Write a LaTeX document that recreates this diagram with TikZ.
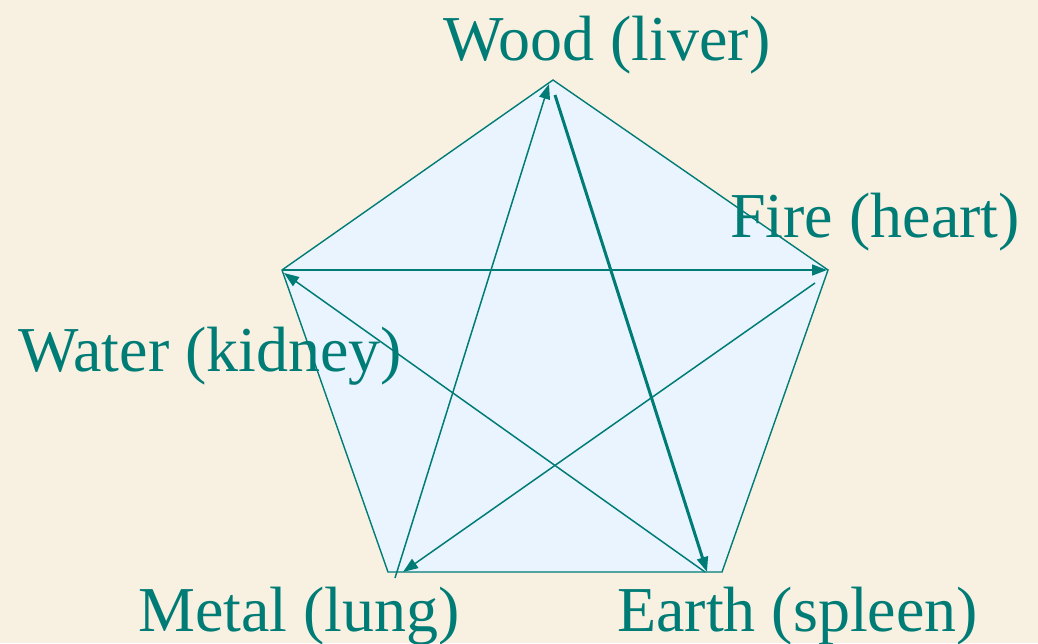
\documentclass[tikz,border=0pt]{standalone}
\usepackage{fontspec}
\setmainfont{Liberation Serif}
\usetikzlibrary{arrows.meta}
\definecolor{teal1}{RGB}{0,124,118}
\definecolor{cream}{RGB}{248,240,224}
\definecolor{paleblue}{RGB}{234,244,255}
\tikzset{
  lbl/.style={inner sep=0pt, anchor=base west, text=teal1, font=\fontsize{64}{72}\selectfont},
  edge/.style={draw=teal1, line width=1.4pt},
  arr/.style={draw=teal1, line width=1.5pt, -{Triangle[length=15pt,width=11pt]}},
  thickarr/.style={draw=teal1, line width=3pt, -{Triangle[length=15pt,width=11pt]}}
}
\begin{document}
\begin{tikzpicture}[x=1pt,y=-1pt]
\fill[cream] (0,0) rectangle (1038,643);
\useasboundingbox (0,0) rectangle (1038,643);
% vertices
\coordinate (W) at (553,80);
\coordinate (F) at (828,270);
\coordinate (E) at (722,572);
\coordinate (M) at (388,572);
\coordinate (K) at (282,270);
% pentagon
\filldraw[fill=paleblue, edge] (W) -- (F) -- (E) -- (M) -- (K) -- cycle;
% arrow end points
\coordinate (m0) at (395,578);
\coordinate (w1) at (549,84);
\coordinate (w0) at (555,95);
\coordinate (e1) at (707,572);
\coordinate (e0) at (705,572);
\coordinate (k1) at (284,273);
\coordinate (k0) at (282,270);
\coordinate (f1) at (827,270);
\coordinate (f0) at (815,283);
\coordinate (m1) at (403,572);
\draw[arr] (m0) -- (w1);
\draw[thickarr] (w0) -- (e1);
\draw[arr] (e0) -- (k1);
\draw[arr] (k0) -- (f1);
\draw[arr] (f0) -- (m1);
% labels
\node[lbl] (tw) at (443,60) {Wood (liver)};
\node[lbl] (tf) at (730,237) {Fire (heart)};
\node[lbl] (tk) at (18,371) {Water (kidney)};
\node[lbl] (tm) at (138,631) {Metal (lung)};
\node[lbl] (te) at (617,631) {Earth (spleen)};
\end{tikzpicture}
\end{document}
